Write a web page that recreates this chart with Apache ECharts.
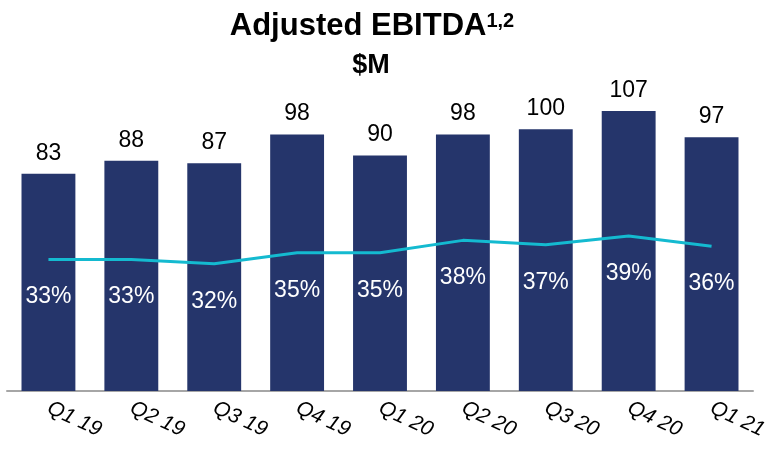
<!DOCTYPE html>
<html>
<head>
<meta charset="utf-8">
<script src="https://cdn.jsdelivr.net/npm/echarts@6/dist/echarts.min.js"></script>
<style>
  html, body { margin: 0; padding: 0; background: #fff; }
  #chart { width: 775px; height: 457px; }
</style>
</head>
<body>
<div id="chart"></div>
<script>
var quarters = ["Q1 19", "Q2 19", "Q3 19", "Q4 19", "Q1 20", "Q2 20", "Q3 20", "Q4 20", "Q1 21"];
var ebitda = [83, 88, 87, 98, 90, 98, 100, 107, 97];
var margin = [33.1, 33.1, 32.0, 34.8, 34.8, 37.9, 36.8, 39.0, 36.4];

var myChart = echarts.init(document.getElementById("chart"));
var font = "Liberation Sans, Arial, sans-serif";

myChart.setOption({
  animation: false,
  title: [
    {
      text: "{t|Adjusted EBITDA}{s|1,2}",
      left: 367,
      top: 6,
      textAlign: "center",
      textStyle: {
        rich: {
          t: { fontSize: 31, fontWeight: "bold", color: "#000", fontFamily: font, verticalAlign: "bottom" },
          s: { fontSize: 20, fontWeight: "bold", color: "#000", fontFamily: font, verticalAlign: "bottom", padding: [0, 0, 11, 0] }
        }
      }
    },
    {
      text: "$M",
      left: 366,
      top: 47,
      textAlign: "center",
      textStyle: { fontSize: 27, fontWeight: "bold", color: "#000", fontFamily: font }
    }
  ],
  grid: { left: 7, right: 22, top: 77, bottom: 66 },
  xAxis: {
    type: "category",
    data: quarters,
    axisLine: { lineStyle: { color: "#A6A6A6", width: 2 } },
    axisTick: { show: false },
    axisLabel: {
      rotate: -25,
      margin: 16,
      fontSize: 21,
      fontStyle: "italic",
      color: "#000",
      fontFamily: font
    }
  },
  yAxis: [
    { type: "value", min: 0, max: 120, show: false },
    { type: "value", min: 0, max: 79, show: false }
  ],
  series: [
    {
      name: "Adjusted EBITDA",
      type: "bar",
      data: ebitda,
      barWidth: "65%",
      itemStyle: { color: "#25356B" },
      label: {
        show: true,
        position: "top",
        distance: 9,
        fontSize: 23,
        color: "#000",
        fontFamily: font
      }
    },
    {
      name: "Margin",
      type: "line",
      yAxisIndex: 1,
      data: margin,
      symbol: "circle",
      symbolSize: 2,
      showSymbol: true,
      itemStyle: { color: "rgba(0,0,0,0)", borderWidth: 0 },
      lineStyle: { color: "#14BAD0", width: 3 },
      label: {
        show: true,
        position: "bottom",
        distance: 25,
        fontSize: 23,
        color: "#fff",
        fontFamily: font,
        formatter: function (p) { return Math.round(p.value) + "%"; }
      },
      labelLayout: { hideOverlap: false }
    }
  ]
});
</script>
</body>
</html>
